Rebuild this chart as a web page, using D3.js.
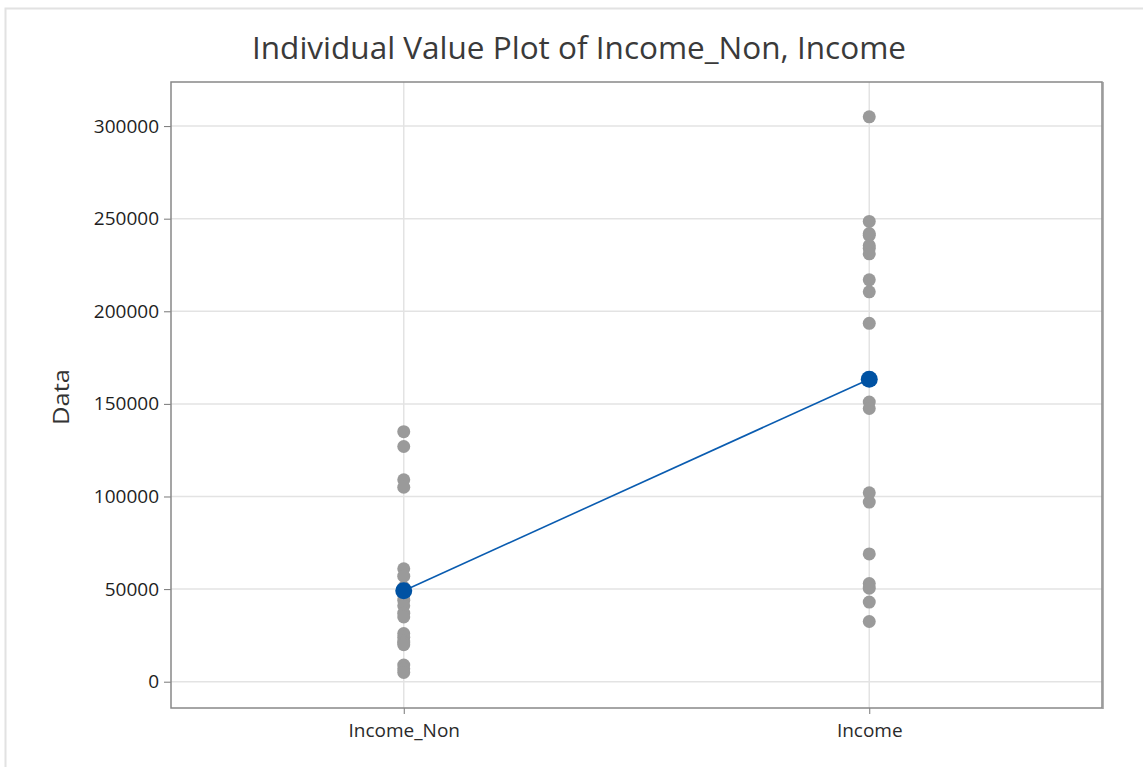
<!DOCTYPE html>
<html>
<head>
<meta charset="utf-8">
<script src="https://cdn.jsdelivr.net/npm/d3@7"></script>
<style>
    html, body { margin: 0; padding: 0; background: #ffffff; }
    svg { display: block; font-family: "Open Sans", "Noto Sans", sans-serif; }
</style>
</head>
<body>
<svg id="chart"></svg>
<script>
/* =========================================================
   Data
   ========================================================= */

const CATEGORIES = ["Income_Non", "Income"];

const INCOME_NON = [
    135000, 127000, 109000, 105000, 61000, 57000, 51000, 47000, 44000, 41000,
    37000, 35000, 26000, 24000, 22000, 21000, 20000, 9000, 7000, 5000
];

const INCOME = [
    305000, 248500, 241000, 242000, 235500, 234000, 231000, 217000, 210500, 193500,
    151000, 147500, 102000, 97000, 69000, 53000, 50500, 43000, 32500
];

const Y_TICKS = [0, 50000, 100000, 150000, 200000, 250000, 300000];

const TITLE = "Individual Value Plot of Income_Non, Income";
const Y_LABEL = "Data";

/* =========================================================
   Layout
   ========================================================= */

const WIDTH = 1143;
const HEIGHT = 767;
const PLOT = { left: 171, top: 82, right: 1102, bottom: 708 };

const svg = d3.select("#chart")
    .attr("width", WIDTH)
    .attr("height", HEIGHT);

// outer panel border
svg.append("rect")
    .attr("x", 5.5)
    .attr("y", 8.5)
    .attr("width", WIDTH + 20)
    .attr("height", HEIGHT + 20)
    .attr("fill", "none")
    .attr("stroke", "#e2e2e2")
    .attr("stroke-width", 2);

const groups = [INCOME_NON, INCOME];

const x = d3.scalePoint()
    .domain(CATEGORIES)
    .range([PLOT.left, PLOT.right])
    .padding(0.5);

const y = d3.scaleLinear()
    .domain([-14200, 323800])
    .range([PLOT.bottom, PLOT.top]);

/* =========================================================
   Gridlines
   ========================================================= */

svg.append("g")
    .selectAll("line")
    .data(Y_TICKS)
    .join("line")
    .attr("x1", PLOT.left)
    .attr("x2", PLOT.right)
    .attr("y1", d => y(d))
    .attr("y2", d => y(d))
    .attr("stroke", "#e3e3e3")
    .attr("stroke-width", 1.5);

svg.append("g")
    .selectAll("line")
    .data(CATEGORIES)
    .join("line")
    .attr("x1", d => x(d))
    .attr("x2", d => x(d))
    .attr("y1", PLOT.top)
    .attr("y2", PLOT.bottom)
    .attr("stroke", "#e3e3e3")
    .attr("stroke-width", 1.5);

/* =========================================================
   Axes
   ========================================================= */

const yAxis = svg.append("g")
    .attr("transform", `translate(${PLOT.left},0)`)
    .call(d3.axisLeft(y).tickValues(Y_TICKS).tickSize(7).tickPadding(5).tickFormat(d3.format("d")));

yAxis.select(".domain").remove();
yAxis.selectAll(".tick line").attr("stroke", "#777777");
yAxis.selectAll(".tick text")
    .attr("font-size", 19)
    .attr("fill", "#1e1e1e")
    .attr("font-family", "'Open Sans', sans-serif");

const xAxis = svg.append("g")
    .attr("transform", `translate(0,${PLOT.bottom})`)
    .call(d3.axisBottom(x).tickSize(6).tickPadding(9.5));

xAxis.select(".domain").remove();
xAxis.selectAll(".tick line").attr("stroke", "#777777");
xAxis.selectAll(".tick text")
    .attr("font-size", 19)
    .attr("fill", "#2a2a2a")
    .attr("font-family", "'Open Sans', sans-serif");

// plot frame
svg.append("rect")
    .attr("x", PLOT.left)
    .attr("y", PLOT.top)
    .attr("width", PLOT.right - PLOT.left)
    .attr("height", PLOT.bottom - PLOT.top)
    .attr("fill", "none")
    .attr("stroke", "#888888")
    .attr("stroke-width", 1.5);

svg.append("line")
    .attr("x1", PLOT.right + 1)
    .attr("x2", PLOT.right + 1)
    .attr("y1", PLOT.top)
    .attr("y2", PLOT.bottom + 1)
    .attr("stroke", "#999999")
    .attr("stroke-width", 1.5);

/* =========================================================
   Individual values and mean connect line
   ========================================================= */

const means = groups.map(g => d3.mean(g));

svg.append("g")
    .selectAll("g")
    .data(groups)
    .join("g")
    .selectAll("circle")
    .data((g, i) => g.map(v => ({ cat: CATEGORIES[i], v })))
    .join("circle")
    .attr("cx", d => x(d.cat))
    .attr("cy", d => y(d.v))
    .attr("r", 6.5)
    .attr("fill", "#9a9a9a");

svg.append("path")
    .datum(means)
    .attr("d", d3.line().x((_, i) => x(CATEGORIES[i])).y(v => y(v)))
    .attr("fill", "none")
    .attr("stroke", "#0a5cb0")
    .attr("stroke-width", 1.6);

svg.append("g")
    .selectAll("circle")
    .data(means)
    .join("circle")
    .attr("cx", (_, i) => x(CATEGORIES[i]))
    .attr("cy", v => y(v))
    .attr("r", 8.5)
    .attr("fill", "#0052a3");

/* =========================================================
   Titles
   ========================================================= */

svg.append("text")
    .attr("x", 579)
    .attr("y", 59)
    .attr("text-anchor", "middle")
    .attr("font-size", 31)
    .attr("fill", "#3a3a3a")
    .attr("textLength", 654)
    .attr("lengthAdjust", "spacingAndGlyphs")
    .text(TITLE);

svg.append("text")
    .attr("transform", `translate(69,397) rotate(-90)`)
    .attr("text-anchor", "middle")
    .attr("font-size", 22)
    .attr("fill", "#333333")
    .attr("textLength", 56)
    .attr("lengthAdjust", "spacingAndGlyphs")
    .text(Y_LABEL);
</script>
</body>
</html>
